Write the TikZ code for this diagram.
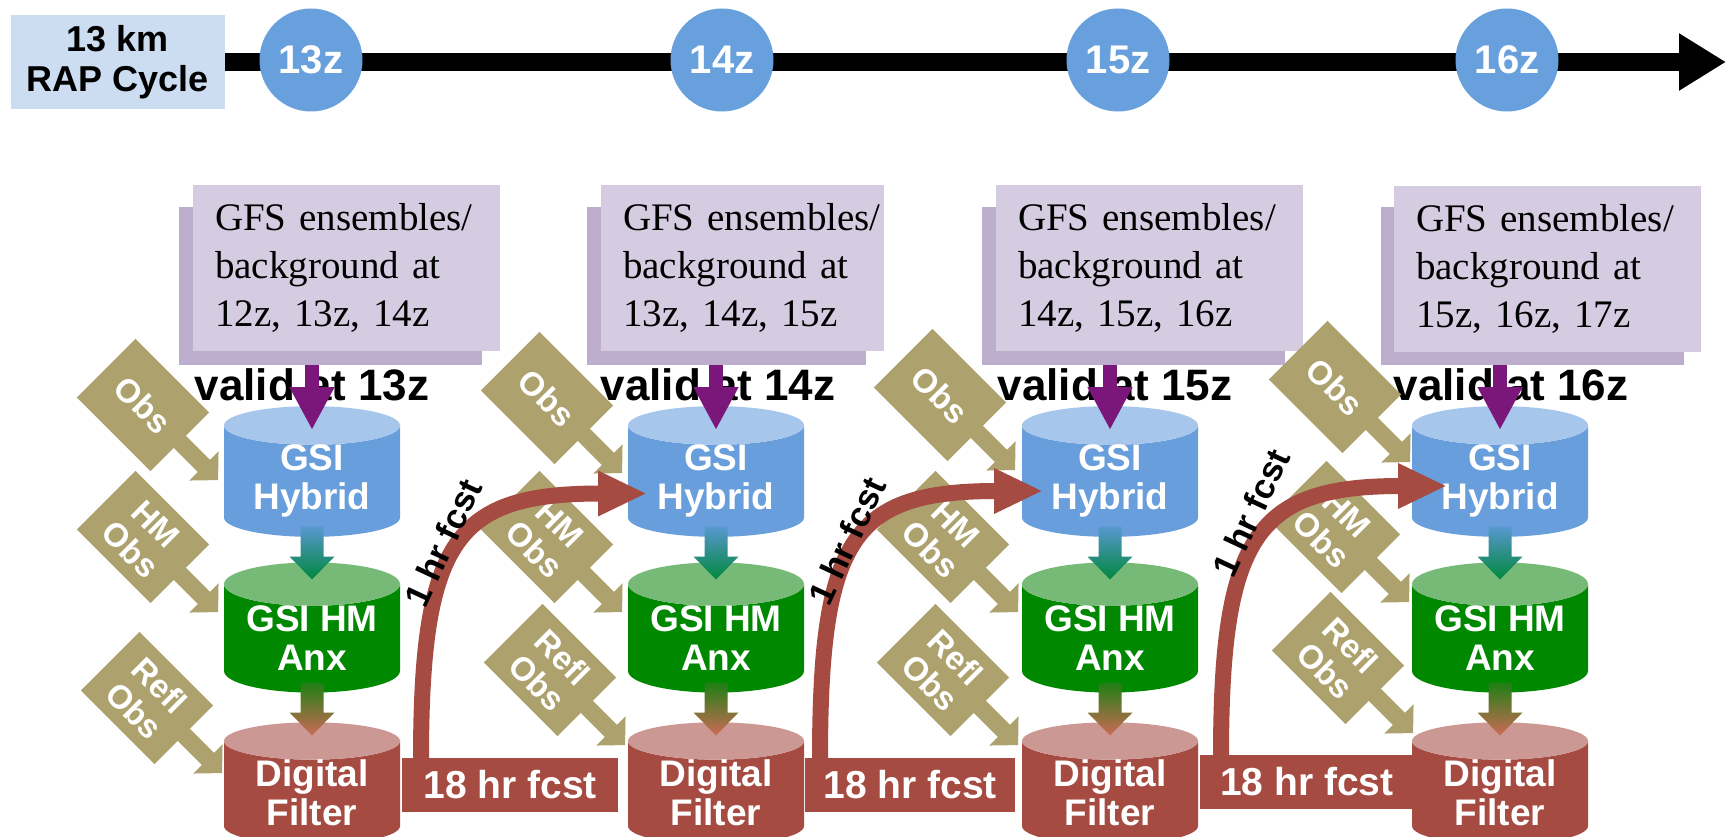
\documentclass[tikz,border=0pt]{standalone}
\usepackage{fontspec}
\setmainfont{Liberation Serif}
\setsansfont{Liberation Sans}
\usepackage{tikz}
\usetikzlibrary{shapes,arrows.meta,calc}

\definecolor{rapBlue}{RGB}{204,221,241}
\definecolor{hourBlue}{RGB}{103,160,220}
\definecolor{gfsFront}{RGB}{213,204,225}
\definecolor{gfsShade}{RGB}{190,174,205}
\definecolor{gfsPurple}{RGB}{123,23,122}
\definecolor{obsKhaki}{RGB}{173,162,110}
\definecolor{hybBody}{RGB}{104,158,219}
\definecolor{hybTop}{RGB}{166,198,236}
\definecolor{hmBody}{RGB}{0,136,0}
\definecolor{hmTop}{RGB}{119,186,119}
\definecolor{dfBody}{RGB}{166,75,66}
\definecolor{dfTop}{RGB}{204,152,148}
\definecolor{flowBlue}{RGB}{88,152,208}
\definecolor{flowGreen}{RGB}{0,135,60}
\definecolor{flowOlive}{RGB}{30,128,20}
\definecolor{flowRed}{RGB}{205,105,85}

\begin{document}
\begin{tikzpicture}[x=1pt, y=-1pt]
    % Define styles
    \tikzstyle{rapbox} = [rectangle, fill=rapBlue, minimum width=214pt, minimum height=94pt, align=center, font=\sffamily\bfseries\fontsize{36}{40}\selectfont]
    \tikzstyle{hour} = [circle, fill=hourBlue, minimum size=103pt, inner sep=0pt, text=white, font=\sffamily\bfseries\fontsize{40}{44}\selectfont]
    \tikzstyle{timeline} = [line width=18pt, -{Triangle[width=54pt, length=47pt]}]
    \tikzstyle{gfsshadow} = [rectangle, fill=gfsShade, minimum width=303pt, minimum height=158pt]
    \tikzstyle{gfs} = [rectangle, fill=gfsFront, minimum width=307pt, minimum height=166pt, text width=263pt, inner xsep=22pt, align=left, font=\fontsize{39}{48}\selectfont]
    \tikzstyle{valid} = [anchor=base, font=\sffamily\bfseries\fontsize{44}{48}\selectfont]
    \tikzstyle{gfsarrow} = [gfsPurple, line width=14pt, -{Triangle[width=42pt, length=43pt]}]
    \tikzstyle{db} = [cylinder, shape border rotate=90, aspect=0.33, minimum width=176pt, minimum height=117pt, anchor=shape center, cylinder uses custom fill, inner sep=0pt, text=white, align=center, font=\sffamily\bfseries\fontsize{37}{39}\selectfont]
    \tikzstyle{hybrid} = [db, cylinder body fill=hybBody, cylinder end fill=hybTop]
    \tikzstyle{hm} = [db, cylinder body fill=hmBody, cylinder end fill=hmTop]
    \tikzstyle{df} = [db, cylinder body fill=dfBody, cylinder end fill=dfTop]
    \tikzstyle{obs} = [rectangle, rotate=-45, fill=obsKhaki, minimum width=104pt, minimum height=83pt, inner sep=0pt, text=white, align=center, font=\sffamily\bfseries\fontsize{33}{36}\selectfont]
    \tikzstyle{obsarrow} = [obsKhaki, line width=17pt, shorten <=-2pt, -{Triangle[width=40pt, length=20pt]}]
    \tikzstyle{fcst} = [rectangle, anchor=west, fill=dfBody, minimum height=54pt, inner sep=0pt, text=white, font=\sffamily\bfseries\fontsize{39}{42}\selectfont]
    \tikzstyle{fcstcurve} = [dfBody, line width=16pt, -{Triangle[width=42pt, length=49pt]}]
    \tikzstyle{fcstlabel} = [rotate=65, inner sep=1pt, font=\sffamily\bfseries\fontsize{35}{38}\selectfont]

    \useasboundingbox (0,0) rectangle (1726,837);

    % Cycle time line
    \node[rapbox] (rap) at (118,62) {13 km\\RAP Cycle};
    \coordinate (tend) at (1726,62);
    \draw[timeline] (rap.east) -- (tend);
    \node[hour] (h13) at (311,60) {13z};
    \node[hour] (h14) at (722,60) {14z};
    \node[hour] (h15) at (1118,60) {15z};
    \node[hour] (h16) at (1507,60) {16z};

    % GFS background boxes
    \node[gfsshadow] (gfsShadowA) at (330.5,286) {};
    \node[gfs] (gfsA) at (346.5,268) {GFS ensembles/\\background at\\12z, 13z, 14z};
    \node[gfsshadow, minimum width=279pt] (gfsShadowB) at (726.5,286) {};
    \node[gfs, minimum width=283pt, text width=239pt] (gfsB) at (742.5,268) {\mbox{GFS ensembles/}\\background at\\13z, 14z, 15z};
    \node[gfsshadow] (gfsShadowC) at (1133.5,286) {};
    \node[gfs] (gfsC) at (1149.5,268) {GFS ensembles/\\background at\\14z, 15z, 16z};
    \node[gfsshadow] (gfsShadowD) at (1532,286) {};
    \node[gfs] (gfsD) at (1547.5,269) {GFS ensembles/\\background at\\15z, 16z, 17z};

    \node[valid] (validA) at (312,400) {valid at 13z};
    \node[valid] (validB) at (718,400) {valid at 14z};
    \node[valid] (validC) at (1115,400) {valid at 15z};
    \node[valid] (validD) at (1511,400) {valid at 16z};

    % Analysis steps
    \node[hybrid] (hybA) at (312,471.5) {GSI\\Hybrid};
    \node[hm] (hmA) at (312,627.5) {GSI HM\\Anx};
    \node[df] (dfA) at (312,783.5) {Digital\\Filter};
    \node[hybrid] (hybB) at (716,471.5) {GSI\\Hybrid};
    \node[hm] (hmB) at (716,627.5) {GSI HM\\Anx};
    \node[df] (dfB) at (716,783.5) {Digital\\Filter};
    \node[hybrid] (hybC) at (1110,471.5) {GSI\\Hybrid};
    \node[hm] (hmC) at (1110,627.5) {GSI HM\\Anx};
    \node[df] (dfC) at (1110,783.5) {Digital\\Filter};
    \node[hybrid] (hybD) at (1500,471.5) {GSI\\Hybrid};
    \node[hm] (hmD) at (1500,627.5) {GSI HM\\Anx};
    \node[df] (dfD) at (1500,783.5) {Digital\\Filter};

    % Background into GSI
    \draw[gfsarrow] (gfsShadowA.south -| hybA.shape center) -- ($(hybA.shape center)+(0,-41.5)$);
    \draw[gfsarrow] (gfsShadowB.south -| hybB.shape center) -- ($(hybB.shape center)+(0,-41.5)$);
    \draw[gfsarrow] (gfsShadowC.south -| hybC.shape center) -- ($(hybC.shape center)+(0,-41.5)$);
    \draw[gfsarrow] (gfsShadowD.south -| hybD.shape center) -- ($(hybD.shape center)+(0,-41.5)$);

    % Hybrid -> HM -> DFI
    \shade[top color=flowBlue, bottom color=flowGreen] ($(hybA.shape center)+(-11.5,55)$) -- ++(23,0) -- ++(0,30) -- ++(11,0) -- ++(-22.5,23) -- ++(-22.5,-23) -- ++(11,0) -- cycle;
    \shade[top color=flowOlive, bottom color=flowRed] ($(hmA.shape center)+(-11.5,55)$) -- ++(23,0) -- ++(0,30) -- ++(11,0) -- ++(-22.5,23) -- ++(-22.5,-23) -- ++(11,0) -- cycle;
    \shade[top color=flowBlue, bottom color=flowGreen] ($(hybB.shape center)+(-11.5,55)$) -- ++(23,0) -- ++(0,30) -- ++(11,0) -- ++(-22.5,23) -- ++(-22.5,-23) -- ++(11,0) -- cycle;
    \shade[top color=flowOlive, bottom color=flowRed] ($(hmB.shape center)+(-11.5,55)$) -- ++(23,0) -- ++(0,30) -- ++(11,0) -- ++(-22.5,23) -- ++(-22.5,-23) -- ++(11,0) -- cycle;
    \shade[top color=flowBlue, bottom color=flowGreen] ($(hybC.shape center)+(-11.5,55)$) -- ++(23,0) -- ++(0,30) -- ++(11,0) -- ++(-22.5,23) -- ++(-22.5,-23) -- ++(11,0) -- cycle;
    \shade[top color=flowOlive, bottom color=flowRed] ($(hmC.shape center)+(-11.5,55)$) -- ++(23,0) -- ++(0,30) -- ++(11,0) -- ++(-22.5,23) -- ++(-22.5,-23) -- ++(11,0) -- cycle;
    \shade[top color=flowBlue, bottom color=flowGreen] ($(hybD.shape center)+(-11.5,55)$) -- ++(23,0) -- ++(0,30) -- ++(11,0) -- ++(-22.5,23) -- ++(-22.5,-23) -- ++(11,0) -- cycle;
    \shade[top color=flowOlive, bottom color=flowRed] ($(hmD.shape center)+(-11.5,55)$) -- ++(23,0) -- ++(0,30) -- ++(11,0) -- ++(-22.5,23) -- ++(-22.5,-23) -- ++(11,0) -- cycle;

    % Observations
    \node[obs] (obsA) at (143,405) {Obs};
    \node[obs] (hmObsA) at (143,537) {HM\\Obs};
    \node[obs] (reflObsA) at (147,698) {Refl\\Obs};
    \node[obs] (obsB) at (547,398) {Obs};
    \node[obs] (hmObsB) at (547,537) {HM\\Obs};
    \node[obs] (reflObsB) at (550,670) {Refl\\Obs};
    \node[obs] (obsC) at (940,395) {Obs};
    \node[obs] (hmObsC) at (943,537) {HM\\Obs};
    \node[obs] (reflObsC) at (943,670) {Refl\\Obs};
    \node[obs] (obsD) at (1335,387) {Obs};
    \node[obs] (hmObsD) at (1334,527) {HM\\Obs};
    \node[obs] (reflObsD) at (1338,658) {Refl\\Obs};
    \draw[obsarrow] (obsA.east) -- ++(38.2,38.2);
    \draw[obsarrow] (hmObsA.east) -- ++(38.2,38.2);
    \draw[obsarrow] (reflObsA.east) -- ++(38.2,38.2);
    \draw[obsarrow] (obsB.east) -- ++(38.2,38.2);
    \draw[obsarrow] (hmObsB.east) -- ++(38.2,38.2);
    \draw[obsarrow] (reflObsB.east) -- ++(38.2,38.2);
    \draw[obsarrow] (obsC.east) -- ++(38.2,38.2);
    \draw[obsarrow] (hmObsC.east) -- ++(38.2,38.2);
    \draw[obsarrow] (reflObsC.east) -- ++(38.2,38.2);
    \draw[obsarrow] (obsD.east) -- ++(38.2,38.2);
    \draw[obsarrow] (hmObsD.east) -- ++(38.2,38.2);
    \draw[obsarrow] (reflObsD.east) -- ++(38.2,38.2);

    % Forecasts
    \node[fcst, minimum width=216pt] (fcstA) at (402,785) {18 hr fcst};
    \node[fcst, minimum width=210pt] (fcstB) at (805,784.5) {18 hr fcst};
    \node[fcst, minimum width=213pt] (fcstC) at (1200,782) {18 hr fcst};
    \draw[fcstcurve] ($(fcstA.north west)+(19,2)$) .. controls +(0,-222) and +(-190,0) .. ($(hybB.shape center)+(-69,22)$);
    \draw[fcstcurve] ($(fcstB.north west)+(15,2)$) .. controls +(0,-222) and +(-190,0) .. ($(hybC.shape center)+(-67,19.5)$);
    \draw[fcstcurve] ($(fcstC.north west)+(21,2)$) .. controls +(0,-222) and +(-190,0) .. ($(hybD.shape center)+(-53,14.5)$);
    \node[fcstlabel] (oneA) at (443,543) {1 hr fcst};
    \node[fcstlabel] (oneB) at (847,541) {1 hr fcst};
    \node[fcstlabel] (oneC) at (1251,513) {1 hr fcst};
\end{tikzpicture}
\end{document}
